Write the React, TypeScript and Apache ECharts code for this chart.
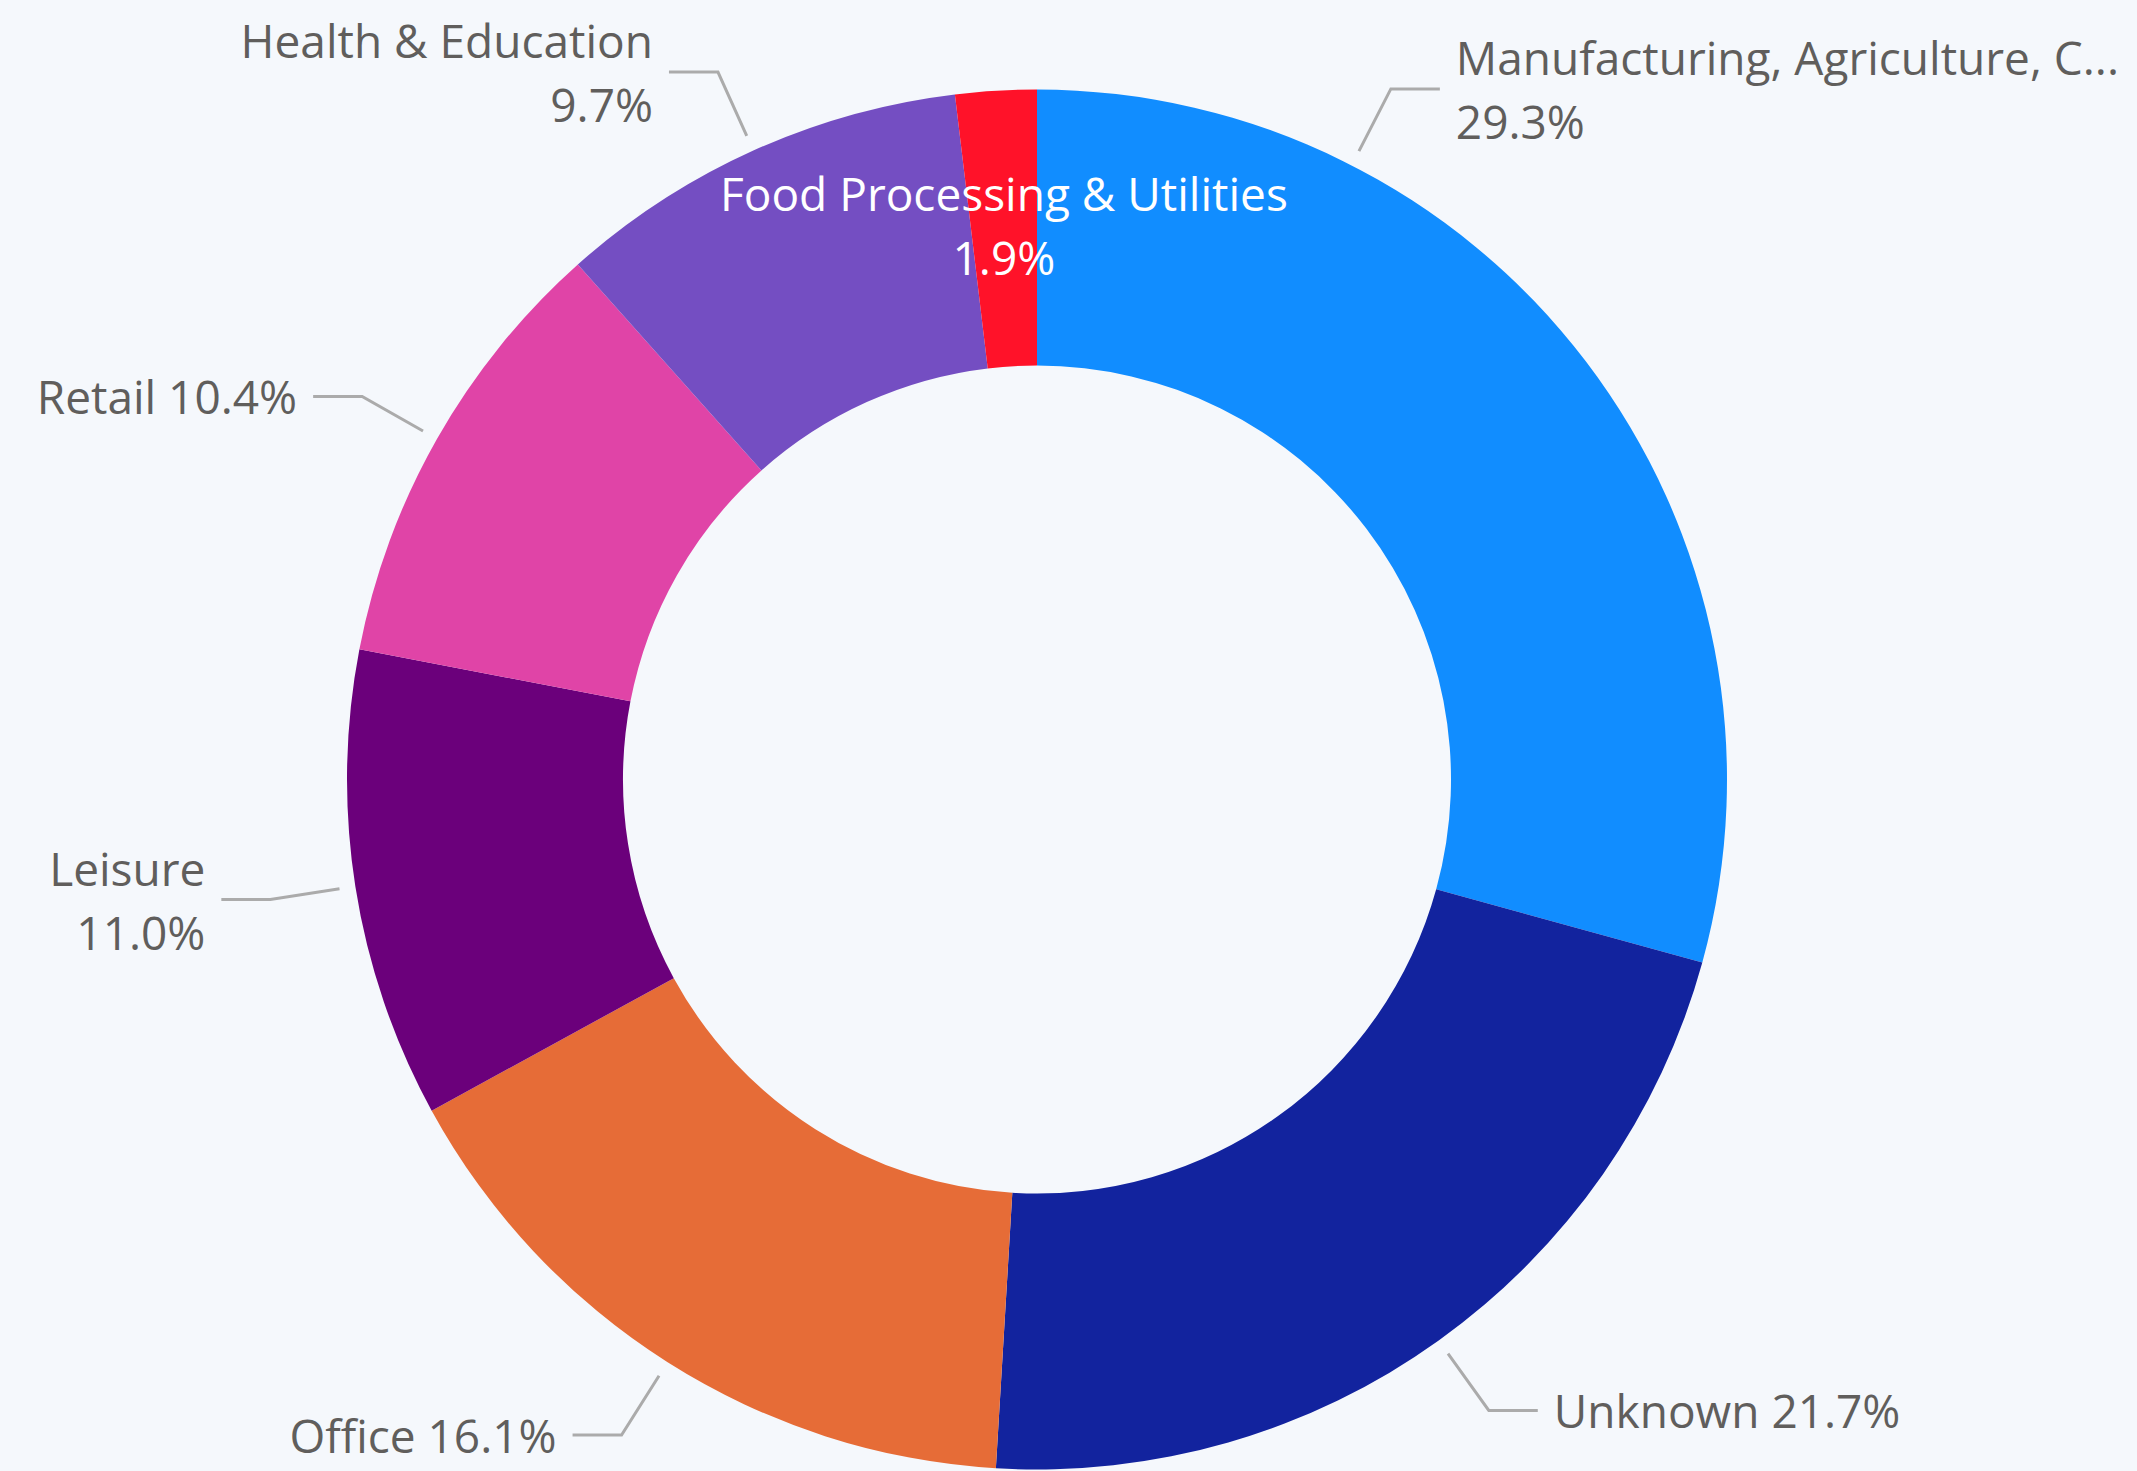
import React, { useEffect, useRef } from 'react';
import * as echarts from 'echarts';

const categories = [
  'Manufacturing, Agriculture, C...',
  'Unknown',
  'Office',
  'Leisure',
  'Retail',
  'Health & Education',
  'Food Processing & Utilities',
];
const values = [29.3, 21.7, 16.1, 11.0, 10.4, 9.7, 1.9];
const colors = ['#118DFF', '#12239E', '#E66C37', '#6B007B', '#E044A7', '#744EC2', '#FF1229'];
const twoLineLabel = [true, false, false, true, false, true, true];
const insideLabel = [false, false, false, false, false, false, true];

const W = 2137;
const H = 1471;
const CX = 1037;
const CY = 779.5;
const R = 690;
const R0 = 414;
const LINE_START = 16;
const LINE_BEND = 86;
const LINE_H = 49;
const TEXT_GAP = 16;
const EDGE = 18;
const BG = '#F5F8FC';
const TEXT = '#605E5C';

const total = values.reduce((a, b) => a + b, 0);
const midAngles = values.map((v, i) => {
  const before = values.slice(0, i).reduce((a, b) => a + b, 0);
  return ((before + v / 2) / total) * 2 * Math.PI;
});

export default function App() {
  const ref = useRef<HTMLDivElement>(null);
  useEffect(() => {
    if (!ref.current) return;
    const chart = echarts.init(ref.current, undefined, { renderer: 'svg' });
    const data = categories.map((name, i) => ({
      name,
      value: values[i],
      itemStyle: { color: colors[i] },
      label: insideLabel[i]
        ? { position: 'inside', color: '#FFFFFF' }
        : { position: 'outside' },
      labelLine: { show: !insideLabel[i] },
    }));
    chart.setOption({
      animation: false,
      backgroundColor: BG,
      series: [
        {
          type: 'pie',
          center: [CX, CY],
          radius: [R0, R],
          startAngle: 90,
          clockwise: true,
          avoidLabelOverlap: false,
          data,
          label: {
            show: true,
            fontFamily: 'Open Sans',
            fontSize: 46,
            lineHeight: 64,
            color: TEXT,
            overflow: 'none',
            formatter: (p: any) => {
              const i = p.dataIndex;
              const pct = values[i].toFixed(1) + '%';
              return categories[i] + (twoLineLabel[i] ? '\n' : ' ') + pct;
            },
          },
          labelLine: {
            show: true,
            length: LINE_BEND,
            length2: LINE_H,
            lineStyle: { color: '#ABABAB', width: 3 },
          },
          labelLayout: (params: any) => {
            const i = params.dataIndex;
            if (insideLabel[i]) return {};
            const th = midAngles[i];
            let s = Math.sin(th);
            let c = Math.cos(th);
            const w = params.labelRect.width;
            const rb = R + LINE_BEND;
            const right = s >= 0;
            const maxS = right
              ? (W - EDGE - w - LINE_H - TEXT_GAP - CX) / rb
              : (CX - EDGE - w - LINE_H - TEXT_GAP) / rb;
            if (Math.abs(s) > maxS) {
              const ns = Math.max(0, Math.min(1, maxS));
              const sign = c >= 0 ? 1 : -1;
              s = (right ? 1 : -1) * ns;
              c = sign * Math.sqrt(1 - ns * ns);
            }
            const sx = CX + (R + LINE_START) * s;
            const sy = CY - (R + LINE_START) * c;
            const bx = CX + rb * s;
            const by = CY - rb * c;
            const ex = bx + (right ? LINE_H : -LINE_H);
            return {
              x: ex + (right ? TEXT_GAP : -TEXT_GAP),
              y: by,
              align: right ? 'left' : 'right',
              verticalAlign: 'middle',
              labelLinePoints: [
                [sx, sy],
                [bx, by],
                [ex, by],
              ],
            };
          },
        },
      ],
    });
    return () => chart.dispose();
  }, []);
  return (
    <div
      ref={ref}
      style={{ position: 'fixed', left: 0, top: 0, width: W, height: H, background: BG }}
    />
  );
}
